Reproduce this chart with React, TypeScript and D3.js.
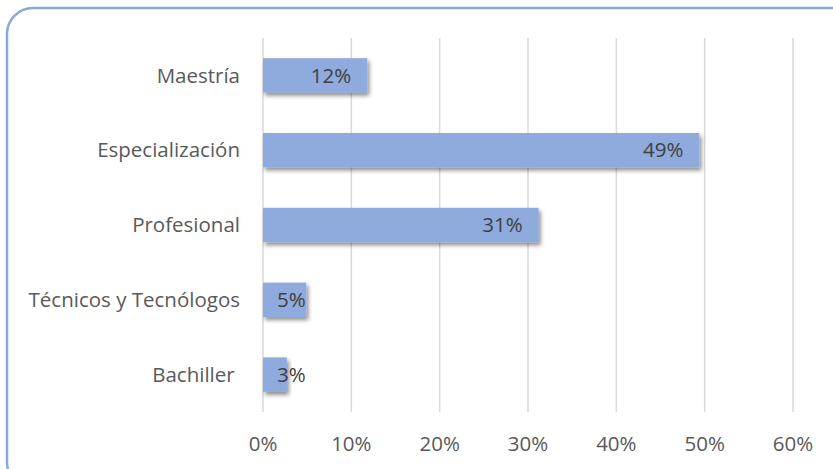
import React from 'react';
import { scaleLinear, scaleBand } from 'd3';

const categories = ['Maestría', 'Especialización', 'Profesional', 'Técnicos y Tecnólogos', 'Bachiller '];
const values = [0.118, 0.494, 0.312, 0.049, 0.027];
const valueLabels = ['12%', '49%', '31%', '5%', '3%'];
const ticks = [0, 0.1, 0.2, 0.3, 0.4, 0.5, 0.6];

const dims = {
  width: 833,
  height: 469,
  left: 263,
  right: 793,
  top: 38,
  bottom: 412
};

const font = '"Open Sans", sans-serif';
const fontSize = 20.5;

function App() {
  const x = scaleLinear().domain([0, 0.6]).range([dims.left, dims.right]);
  const y = scaleBand()
    .domain(categories)
    .range([dims.top, dims.bottom])
    .paddingInner(0.54)
    .paddingOuter(0.27);

  // rough width of a data label, used to keep small labels off the axis
  const labelWidth = (s: string) => s.length * fontSize * 0.6;

  return (
    <svg
      width={dims.width}
      height={dims.height}
      style={{ position: 'absolute', left: 0, top: 0, background: '#fff' }}
    >
      <defs>
        <filter id="shadow" x="-10%" y="-30%" width="130%" height="180%">
          <feDropShadow dx="2" dy="3" stdDeviation="2" floodColor="#000" floodOpacity="0.45" />
        </filter>
      </defs>
      <rect x={7} y={8} width={850} height={480} rx={26} ry={26} fill="#fff" stroke="#8aa8dc" strokeWidth={2.5} />

      {ticks.map(t => (
        <g key={t}>
          <line x1={x(t)} x2={x(t)} y1={dims.top} y2={dims.bottom} stroke="#d9d9d9" strokeWidth={1.5} />
          <text
            x={x(t)}
            y={451}
            textAnchor="middle"
            fontFamily={font}
            fontSize={fontSize}
            fill="#595959"
          >
            {`${Math.round(t * 100)}%`}
          </text>
        </g>
      ))}

      {categories.map((c, i) => {
        const yc = y(c)! + y.bandwidth() / 2;
        const end = x(values[i]);
        const lx = Math.max(end - 16, dims.left + 18 + labelWidth(valueLabels[i]));
        return (
          <g key={c}>
            <rect
              x={x(0)}
              y={y(c)}
              width={end - x(0)}
              height={y.bandwidth()}
              fill="#8faadc"
              filter="url(#shadow)"
            />
            <text
              x={240}
              y={yc}
              dy="0.35em"
              textAnchor="end"
              fontFamily={font}
              fontSize={fontSize}
              fill="#595959"
              style={{ whiteSpace: 'pre' }}
            >
              {c}
            </text>
            <text
              x={lx}
              y={yc}
              dy="0.35em"
              textAnchor="end"
              fontFamily={font}
              fontSize={fontSize}
              fill="#404040"
            >
              {valueLabels[i]}
            </text>
          </g>
        );
      })}
    </svg>
  );
}

export default App;
